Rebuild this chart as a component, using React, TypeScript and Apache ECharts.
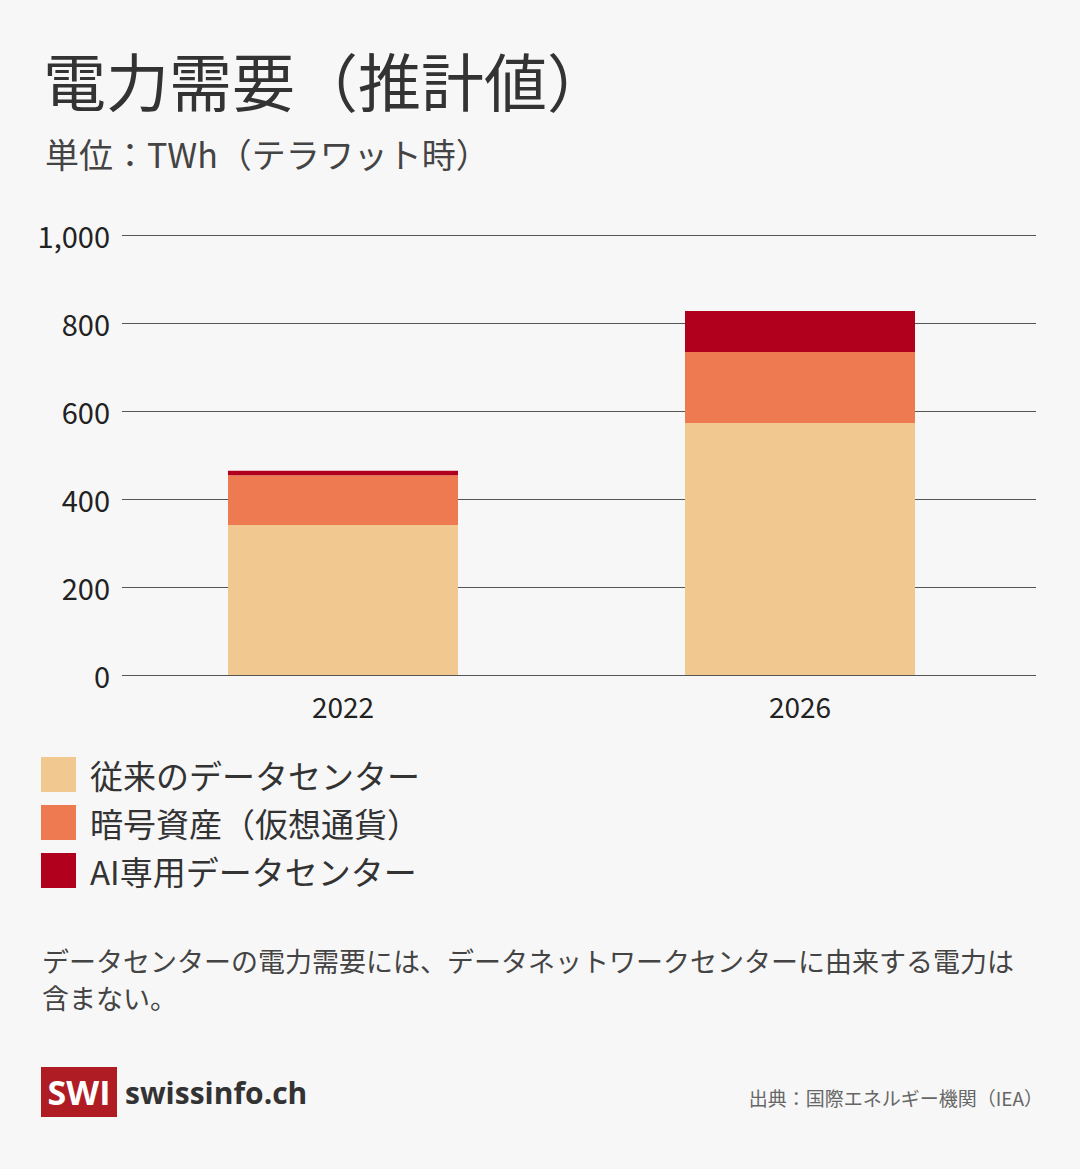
import React, { useEffect, useRef } from "react";
import * as echarts from "echarts";

const categories = ["2022", "2026"];
const seriesNames = ["従来のデータセンター", "暗号資産（仮想通貨）", "AI専用データセンター"];
const traditional = [341, 573];
const crypto = [113, 161];
const aiCenters = [10, 93];
const colors = ["#f1c990", "#ee7a52", "#b0001e"];
const yTicks = { min: 0, max: 1000, interval: 200 };

const FONT = "'Noto Sans CJK JP', 'Noto Sans', sans-serif";

export default function App() {
  const ref = useRef<HTMLDivElement>(null);
  useEffect(() => {
    if (!ref.current) return;
    const chart = echarts.init(ref.current, null, { renderer: "svg" });
    const values = [traditional, crypto, aiCenters];
    chart.setOption({
      animation: false,
      backgroundColor: "#f8f7f7",
      textStyle: { fontFamily: FONT },
      title: [
        {
          text: "電力需要（推計値）",
          left: 38,
          top: 42,
          textStyle: { fontSize: 63, fontWeight: "normal", color: "#333333", fontFamily: FONT },
        },
        {
          text: "単位：TWh（テラワット時）",
          left: 40,
          top: 131,
          textStyle: { fontSize: 34, fontWeight: "normal", color: "#444444", fontFamily: FONT },
        },
      ],
      legend: {
        orient: "vertical",
        left: 41,
        top: 757,
        padding: 0,
        itemWidth: 35,
        itemHeight: 35,
        itemGap: 13,
        icon: "rect",
        data: seriesNames,
        textStyle: { fontSize: 33, color: "#333333", fontFamily: FONT, padding: [0, 0, 0, 9] },
      },
      grid: [
        { left: 114.5, width: 914, top: 235, height: 440, containLabel: false },
        { left: 122, width: 914, top: 235, height: 440, containLabel: false },
      ],
      xAxis: [
        {
          type: "category",
          gridIndex: 0,
          data: categories,
          axisTick: { show: false },
          axisLine: { show: false },
          axisLabel: { fontSize: 28, color: "#222222", margin: 17, fontFamily: FONT },
        },
        {
          type: "category",
          gridIndex: 1,
          data: categories,
          show: false,
        },
      ],
      yAxis: [
        {
          type: "value",
          gridIndex: 0,
          min: yTicks.min,
          max: yTicks.max,
          interval: yTicks.interval,
          show: false,
          splitLine: { show: false },
        },
        {
          type: "value",
          gridIndex: 1,
          min: yTicks.min,
          max: yTicks.max,
          interval: yTicks.interval,
          axisLine: { show: false },
          axisTick: { show: false },
          splitLine: { lineStyle: { color: "#555555", width: 1 } },
          axisLabel: {
            fontSize: 29,
            color: "#222222",
            margin: 12,
            fontFamily: FONT,
            formatter: (v: number) => v.toLocaleString("en-US"),
          },
        },
      ],
      series: seriesNames.map((name, i) => ({
        name,
        type: "bar",
        stack: "total",
        xAxisIndex: 0,
        yAxisIndex: 0,
        barWidth: 230,
        data: values[i],
        itemStyle: { color: colors[i] },
      })),
      graphic: [
        {
          type: "text",
          left: 42,
          top: 942,
          style: {
            text: "データセンターの電力需要には、データネットワークセンターに由来する電力は\n含まない。",
            fontSize: 27,
            lineHeight: 37,
            fill: "#444444",
            fontFamily: FONT,
          },
        },
        {
          type: "rect",
          shape: { x: 41, y: 1067, width: 76, height: 50 },
          style: { fill: "#b01c24" },
        },
        {
          type: "text",
          x: 79,
          y: 1092,
          style: {
            text: "SWI",
            fontSize: 34,
            fontWeight: "bold",
            fill: "#ffffff",
            align: "center",
            verticalAlign: "middle",
            fontFamily: "'Open Sans', 'DejaVu Sans', sans-serif",
          },
        },
        {
          type: "text",
          x: 125,
          y: 1092,
          style: {
            text: "swissinfo.ch",
            fontSize: 30,
            fontWeight: "bold",
            fill: "#333333",
            verticalAlign: "middle",
            fontFamily: "'Open Sans', 'DejaVu Sans', sans-serif",
          },
        },
        {
          type: "text",
          x: 1043,
          y: 1097,
          style: {
            text: "出典：国際エネルギー機関（IEA）",
            fontSize: 19,
            fill: "#666666",
            align: "right",
            verticalAlign: "middle",
            fontFamily: FONT,
          },
        },
      ],
    });
    return () => chart.dispose();
  }, []);
  return (
    <div
      ref={ref}
      style={{ position: "fixed", left: 0, top: 0, width: 1080, height: 1169 }}
    />
  );
}
